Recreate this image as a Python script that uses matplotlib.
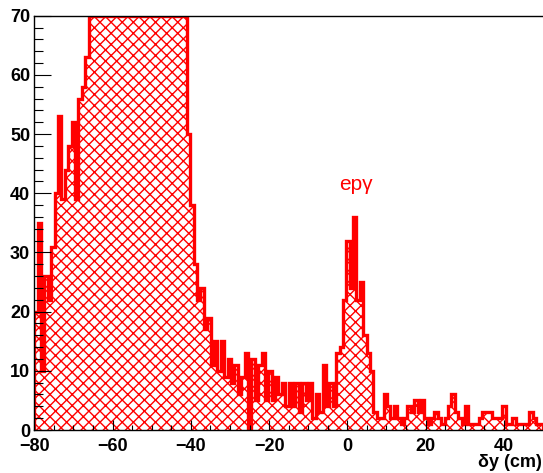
import numpy as np
import matplotlib.pyplot as plt
from matplotlib.ticker import MultipleLocator

# counts per bin, 150 bins between -80 and 50 cm
counts = [
    20, 35, 10, 26, 22, 31, 40, 53, 39, 44, 48, 52, 39, 56, 58, 63,
    # saturated part, the real height is above the frame
    78, 85, 92, 101, 108, 115, 121, 126, 131, 134, 137, 139, 140, 141, 139,
    137, 134, 131, 127, 122, 117, 112, 106, 100, 95, 90, 84, 79, 74,
    50, 38, 28, 22, 24, 17, 19,
    11, 15, 10, 15, 9, 12, 8, 11, 6, 9, 13, 0, 12, 5, 11, 13, 5, 10, 5, 9,
    6, 8, 4, 8, 4, 8, 3, 8, 5, 8, 2, 6, 3, 11, 4, 8, 4, 13, 14,
    22, 32, 24, 36, 22, 25, 16, 13, 10, 3, 2,
    2, 6, 4, 2, 4, 2, 1, 2, 4, 3, 5, 3, 5, 2, 1, 2, 3, 2, 1, 2, 4, 6, 3, 2,
    1, 4, 1, 1, 1, 2, 3, 3, 3, 2, 2, 2, 4, 1, 1, 2, 1, 1, 1, 1, 3, 2, 1, 1,
]
x_lo, x_hi = -80, 50
y_max = 70
x_ticks = [-80, -60, -40, -20, 0, 20, 40]
y_ticks = [0, 10, 20, 30, 40, 50, 60, 70]

edges = np.linspace(x_lo, x_hi, len(counts) + 1)
shown = np.minimum(counts, y_max)

plt.rcParams['font.family'] = ['Liberation Sans', 'DejaVu Sans']
plt.rcParams['hatch.linewidth'] = 1.0

fig = plt.figure(figsize=(5.43, 4.73), dpi=100)
ax = fig.add_axes([0.0632, 0.0909, 0.9368, 0.8759])

# hatched body + thick outline, ROOT style
ax.stairs(shown, edges, fill=True, facecolor='none', edgecolor='red',
          hatch='xxx', linewidth=0)
ax.stairs(shown, edges, color='red', linewidth=2.4)

ax.set_xlim(x_lo, x_hi)
ax.set_ylim(0, y_max)
ax.set_xticks(x_ticks)
ax.set_yticks(y_ticks)
ax.xaxis.set_minor_locator(MultipleLocator(5))
ax.yaxis.set_minor_locator(MultipleLocator(2))

ax.tick_params(which='both', direction='in', top=False, right=False,
               width=0.8, color='black')
ax.tick_params(axis='y', which='major', length=12, pad=3, labelsize=13)
ax.tick_params(axis='y', which='minor', length=6.5)
ax.tick_params(axis='x', which='major', length=7, pad=6, labelsize=13)
ax.tick_params(axis='x', which='minor', length=3.5)
for lab in ax.get_xticklabels() + ax.get_yticklabels():
    lab.set_fontweight('bold')

ax.spines['right'].set_visible(False)
for s in ['left', 'top', 'bottom']:
    ax.spines[s].set_linewidth(1.0)

ax.text(2.3, 41.5, 'epγ', color='red', fontsize=15, ha='center', va='center')
fig.text(0.998, 0.022, 'δy (cm)', ha='right', va='center',
         fontsize=13, fontweight='bold')

fig.savefig('out.png', dpi=100)
